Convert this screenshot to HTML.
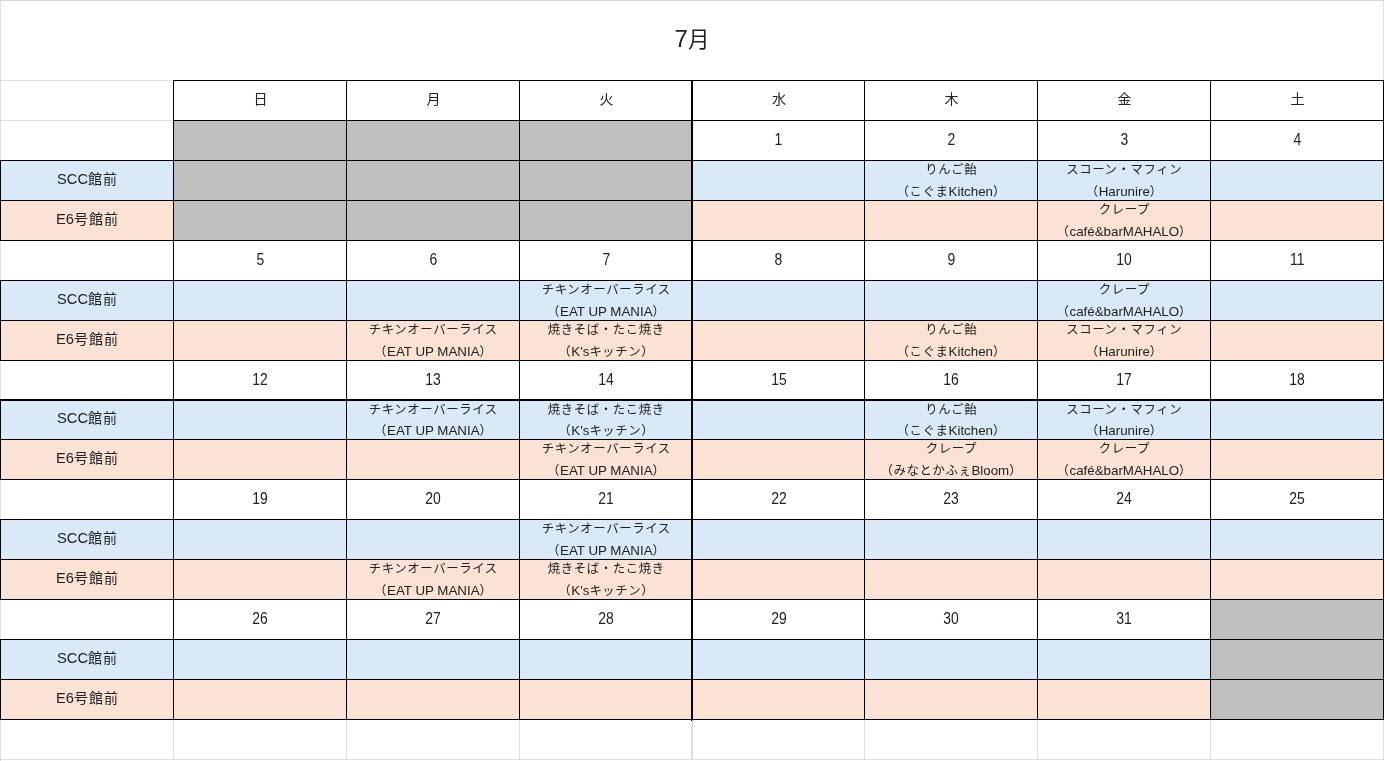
<!DOCTYPE html>
<html lang="ja">
<head>
<meta charset="utf-8">
<title>7月</title>
<style>
html,body{margin:0;padding:0;background:#fff}
body{position:relative;width:1385px;height:761px;overflow:hidden;font-family:"Liberation Sans","Noto Sans CJK JP",sans-serif;color:#222}
.c{position:absolute;box-sizing:border-box;display:flex;align-items:center;justify-content:center;text-align:center;white-space:nowrap;overflow:hidden}
.c span,.c p{position:relative;margin:0}
em{font-style:normal;letter-spacing:0}
.b{background:#dae9f8}.o{background:#fbe2d5}.g{background:#bfbfbf}
.t span{font-size:21.5px;line-height:32px;top:-1px}
.t em{font-size:24px;font-weight:400}
.t span{font-weight:400}
.n span{font-size:16px;line-height:20px;top:-0.4px;left:0px;transform:scaleX(0.87)}
.d span{font-size:14px;line-height:20px;top:-1.5px;left:0.5px}
.l span{font-size:14px;letter-spacing:1px;line-height:20px;top:-1.5px;left:0.5px}
.l em{font-size:14.67px}
.s p{position:absolute;left:0;top:0;width:100%;height:100%;font-size:12.4px;letter-spacing:0.6px}
.s span{position:absolute;left:0.3px;width:100%;height:20px;line-height:20px;top:0px}
.s span+span{top:22px}
.q span+span{top:21px}
.s em{font-size:13.33px}
.k,.y{position:absolute}
.k{background:#000}.y{background:#e0e0e0}
</style>
</head>
<body>
<div class="c t" style="left:0;top:0;width:1384px;height:81px"><span><em>7</em>月</span></div>
<div class="c d" style="left:173px;top:80px;width:174px;height:41px"><span>日</span></div>
<div class="c d" style="left:346px;top:80px;width:174px;height:41px"><span>月</span></div>
<div class="c d" style="left:519px;top:80px;width:174px;height:41px"><span>火</span></div>
<div class="c d" style="left:692px;top:80px;width:173px;height:41px"><span>水</span></div>
<div class="c d" style="left:864px;top:80px;width:174px;height:41px"><span>木</span></div>
<div class="c d" style="left:1037px;top:80px;width:174px;height:41px"><span>金</span></div>
<div class="c d" style="left:1210px;top:80px;width:174px;height:41px"><span>土</span></div>
<div class="c l b" style="left:0px;top:160px;width:174px;height:41px"><span><em>SCC</em>館前</span></div>
<div class="c l o" style="left:0px;top:200px;width:174px;height:41px"><span><em>E6</em>号館前</span></div>
<div class="c g" style="left:173px;top:120px;width:174px;height:41px"></div>
<div class="c g" style="left:173px;top:160px;width:174px;height:41px"></div>
<div class="c g" style="left:173px;top:200px;width:174px;height:41px"></div>
<div class="c g" style="left:346px;top:120px;width:174px;height:41px"></div>
<div class="c g" style="left:346px;top:160px;width:174px;height:41px"></div>
<div class="c g" style="left:346px;top:200px;width:174px;height:41px"></div>
<div class="c g" style="left:519px;top:120px;width:174px;height:41px"></div>
<div class="c g" style="left:519px;top:160px;width:174px;height:41px"></div>
<div class="c g" style="left:519px;top:200px;width:174px;height:41px"></div>
<div class="c n" style="left:692px;top:120px;width:173px;height:41px"><span>1</span></div>
<div class="c b" style="left:692px;top:160px;width:173px;height:41px"></div>
<div class="c o" style="left:692px;top:200px;width:173px;height:41px"></div>
<div class="c n" style="left:864px;top:120px;width:174px;height:41px"><span>2</span></div>
<div class="c s b" style="left:864px;top:160px;width:174px;height:41px"><p><span>りんご飴</span><span>（こぐま<em>Kitchen</em>）</span></p></div>
<div class="c o" style="left:864px;top:200px;width:174px;height:41px"></div>
<div class="c n" style="left:1037px;top:120px;width:174px;height:41px"><span>3</span></div>
<div class="c s b" style="left:1037px;top:160px;width:174px;height:41px"><p><span>スコーン・マフィン</span><span>（<em>Harunire</em>）</span></p></div>
<div class="c s o" style="left:1037px;top:200px;width:174px;height:41px"><p><span>クレープ</span><span>（<em>café&amp;barMAHALO</em>）</span></p></div>
<div class="c n" style="left:1210px;top:120px;width:174px;height:41px"><span>4</span></div>
<div class="c b" style="left:1210px;top:160px;width:174px;height:41px"></div>
<div class="c o" style="left:1210px;top:200px;width:174px;height:41px"></div>
<div class="c l b" style="left:0px;top:280px;width:174px;height:41px"><span><em>SCC</em>館前</span></div>
<div class="c l o" style="left:0px;top:320px;width:174px;height:41px"><span><em>E6</em>号館前</span></div>
<div class="c n" style="left:173px;top:240px;width:174px;height:41px"><span>5</span></div>
<div class="c b" style="left:173px;top:280px;width:174px;height:41px"></div>
<div class="c o" style="left:173px;top:320px;width:174px;height:41px"></div>
<div class="c n" style="left:346px;top:240px;width:174px;height:41px"><span>6</span></div>
<div class="c b" style="left:346px;top:280px;width:174px;height:41px"></div>
<div class="c s o" style="left:346px;top:320px;width:174px;height:41px"><p><span>チキンオーバーライス</span><span>（<em>EAT UP MANIA</em>）</span></p></div>
<div class="c n" style="left:519px;top:240px;width:174px;height:41px"><span>7</span></div>
<div class="c s b" style="left:519px;top:280px;width:174px;height:41px"><p><span>チキンオーバーライス</span><span>（<em>EAT UP MANIA</em>）</span></p></div>
<div class="c s o" style="left:519px;top:320px;width:174px;height:41px"><p><span>焼きそば・たこ焼き</span><span>（<em>K's</em>キッチン）</span></p></div>
<div class="c n" style="left:692px;top:240px;width:173px;height:41px"><span>8</span></div>
<div class="c b" style="left:692px;top:280px;width:173px;height:41px"></div>
<div class="c o" style="left:692px;top:320px;width:173px;height:41px"></div>
<div class="c n" style="left:864px;top:240px;width:174px;height:41px"><span>9</span></div>
<div class="c b" style="left:864px;top:280px;width:174px;height:41px"></div>
<div class="c s o" style="left:864px;top:320px;width:174px;height:41px"><p><span>りんご飴</span><span>（こぐま<em>Kitchen</em>）</span></p></div>
<div class="c n" style="left:1037px;top:240px;width:174px;height:41px"><span>10</span></div>
<div class="c s b" style="left:1037px;top:280px;width:174px;height:41px"><p><span>クレープ</span><span>（<em>café&amp;barMAHALO</em>）</span></p></div>
<div class="c s o" style="left:1037px;top:320px;width:174px;height:41px"><p><span>スコーン・マフィン</span><span>（<em>Harunire</em>）</span></p></div>
<div class="c n" style="left:1210px;top:240px;width:174px;height:41px"><span>11</span></div>
<div class="c b" style="left:1210px;top:280px;width:174px;height:41px"></div>
<div class="c o" style="left:1210px;top:320px;width:174px;height:41px"></div>
<div class="c l b" style="left:0px;top:400px;width:174px;height:39px"><span><em>SCC</em>館前</span></div>
<div class="c l o" style="left:0px;top:439px;width:174px;height:41px"><span><em>E6</em>号館前</span></div>
<div class="c n" style="left:173px;top:360px;width:174px;height:41px"><span>12</span></div>
<div class="c b" style="left:173px;top:400px;width:174px;height:39px"></div>
<div class="c o" style="left:173px;top:439px;width:174px;height:41px"></div>
<div class="c n" style="left:346px;top:360px;width:174px;height:41px"><span>13</span></div>
<div class="c s b q" style="left:346px;top:400px;width:174px;height:39px"><p><span>チキンオーバーライス</span><span>（<em>EAT UP MANIA</em>）</span></p></div>
<div class="c o" style="left:346px;top:439px;width:174px;height:41px"></div>
<div class="c n" style="left:519px;top:360px;width:174px;height:41px"><span>14</span></div>
<div class="c s b q" style="left:519px;top:400px;width:174px;height:39px"><p><span>焼きそば・たこ焼き</span><span>（<em>K's</em>キッチン）</span></p></div>
<div class="c s o" style="left:519px;top:439px;width:174px;height:41px"><p><span>チキンオーバーライス</span><span>（<em>EAT UP MANIA</em>）</span></p></div>
<div class="c n" style="left:692px;top:360px;width:173px;height:41px"><span>15</span></div>
<div class="c b" style="left:692px;top:400px;width:173px;height:39px"></div>
<div class="c o" style="left:692px;top:439px;width:173px;height:41px"></div>
<div class="c n" style="left:864px;top:360px;width:174px;height:41px"><span>16</span></div>
<div class="c s b q" style="left:864px;top:400px;width:174px;height:39px"><p><span>りんご飴</span><span>（こぐま<em>Kitchen</em>）</span></p></div>
<div class="c s o" style="left:864px;top:439px;width:174px;height:41px"><p><span>クレープ</span><span>（みなとかふぇ<em>Bloom</em>）</span></p></div>
<div class="c n" style="left:1037px;top:360px;width:174px;height:41px"><span>17</span></div>
<div class="c s b q" style="left:1037px;top:400px;width:174px;height:39px"><p><span>スコーン・マフィン</span><span>（<em>Harunire</em>）</span></p></div>
<div class="c s o" style="left:1037px;top:439px;width:174px;height:41px"><p><span>クレープ</span><span>（<em>café&amp;barMAHALO</em>）</span></p></div>
<div class="c n" style="left:1210px;top:360px;width:174px;height:41px"><span>18</span></div>
<div class="c b" style="left:1210px;top:400px;width:174px;height:39px"></div>
<div class="c o" style="left:1210px;top:439px;width:174px;height:41px"></div>
<div class="c l b" style="left:0px;top:519px;width:174px;height:41px"><span><em>SCC</em>館前</span></div>
<div class="c l o" style="left:0px;top:559px;width:174px;height:41px"><span><em>E6</em>号館前</span></div>
<div class="c n" style="left:173px;top:479px;width:174px;height:41px"><span>19</span></div>
<div class="c b" style="left:173px;top:519px;width:174px;height:41px"></div>
<div class="c o" style="left:173px;top:559px;width:174px;height:41px"></div>
<div class="c n" style="left:346px;top:479px;width:174px;height:41px"><span>20</span></div>
<div class="c b" style="left:346px;top:519px;width:174px;height:41px"></div>
<div class="c s o" style="left:346px;top:559px;width:174px;height:41px"><p><span>チキンオーバーライス</span><span>（<em>EAT UP MANIA</em>）</span></p></div>
<div class="c n" style="left:519px;top:479px;width:174px;height:41px"><span>21</span></div>
<div class="c s b" style="left:519px;top:519px;width:174px;height:41px"><p><span>チキンオーバーライス</span><span>（<em>EAT UP MANIA</em>）</span></p></div>
<div class="c s o" style="left:519px;top:559px;width:174px;height:41px"><p><span>焼きそば・たこ焼き</span><span>（<em>K's</em>キッチン）</span></p></div>
<div class="c n" style="left:692px;top:479px;width:173px;height:41px"><span>22</span></div>
<div class="c b" style="left:692px;top:519px;width:173px;height:41px"></div>
<div class="c o" style="left:692px;top:559px;width:173px;height:41px"></div>
<div class="c n" style="left:864px;top:479px;width:174px;height:41px"><span>23</span></div>
<div class="c b" style="left:864px;top:519px;width:174px;height:41px"></div>
<div class="c o" style="left:864px;top:559px;width:174px;height:41px"></div>
<div class="c n" style="left:1037px;top:479px;width:174px;height:41px"><span>24</span></div>
<div class="c b" style="left:1037px;top:519px;width:174px;height:41px"></div>
<div class="c o" style="left:1037px;top:559px;width:174px;height:41px"></div>
<div class="c n" style="left:1210px;top:479px;width:174px;height:41px"><span>25</span></div>
<div class="c b" style="left:1210px;top:519px;width:174px;height:41px"></div>
<div class="c o" style="left:1210px;top:559px;width:174px;height:41px"></div>
<div class="c l b" style="left:0px;top:639px;width:174px;height:41px"><span><em>SCC</em>館前</span></div>
<div class="c l o" style="left:0px;top:679px;width:174px;height:41px"><span><em>E6</em>号館前</span></div>
<div class="c n" style="left:173px;top:599px;width:174px;height:41px"><span>26</span></div>
<div class="c b" style="left:173px;top:639px;width:174px;height:41px"></div>
<div class="c o" style="left:173px;top:679px;width:174px;height:41px"></div>
<div class="c n" style="left:346px;top:599px;width:174px;height:41px"><span>27</span></div>
<div class="c b" style="left:346px;top:639px;width:174px;height:41px"></div>
<div class="c o" style="left:346px;top:679px;width:174px;height:41px"></div>
<div class="c n" style="left:519px;top:599px;width:174px;height:41px"><span>28</span></div>
<div class="c b" style="left:519px;top:639px;width:174px;height:41px"></div>
<div class="c o" style="left:519px;top:679px;width:174px;height:41px"></div>
<div class="c n" style="left:692px;top:599px;width:173px;height:41px"><span>29</span></div>
<div class="c b" style="left:692px;top:639px;width:173px;height:41px"></div>
<div class="c o" style="left:692px;top:679px;width:173px;height:41px"></div>
<div class="c n" style="left:864px;top:599px;width:174px;height:41px"><span>30</span></div>
<div class="c b" style="left:864px;top:639px;width:174px;height:41px"></div>
<div class="c o" style="left:864px;top:679px;width:174px;height:41px"></div>
<div class="c n" style="left:1037px;top:599px;width:174px;height:41px"><span>31</span></div>
<div class="c b" style="left:1037px;top:639px;width:174px;height:41px"></div>
<div class="c o" style="left:1037px;top:679px;width:174px;height:41px"></div>
<div class="c g" style="left:1210px;top:599px;width:174px;height:41px"></div>
<div class="c g" style="left:1210px;top:639px;width:174px;height:41px"></div>
<div class="c g" style="left:1210px;top:679px;width:174px;height:41px"></div>
<div class="y" style="left:0;top:0;width:1384px;height:1px;background:#d9d9d9"></div>
<div class="y" style="left:0px;top:0px;width:1px;height:761px"></div>
<div class="y" style="left:1383px;top:0px;width:1px;height:81px"></div>
<div class="y" style="left:0px;top:80px;width:174px;height:1px"></div>
<div class="y" style="left:0px;top:120px;width:174px;height:1px"></div>
<div class="y" style="left:0px;top:759px;width:1384px;height:1px"></div>
<div class="y" style="left:173px;top:720px;width:1px;height:40px"></div>
<div class="y" style="left:346px;top:720px;width:1px;height:40px"></div>
<div class="y" style="left:519px;top:720px;width:1px;height:40px"></div>
<div class="y" style="left:691px;top:720px;width:2px;height:40px"></div>
<div class="y" style="left:864px;top:720px;width:1px;height:40px"></div>
<div class="y" style="left:1037px;top:720px;width:1px;height:40px"></div>
<div class="y" style="left:1210px;top:720px;width:1px;height:40px"></div>
<div class="y" style="left:1383px;top:720px;width:1px;height:40px"></div>
<div class="k" style="left:173px;top:80px;width:1211px;height:1px"></div>
<div class="k" style="left:173px;top:120px;width:1211px;height:1px"></div>
<div class="k" style="left:0px;top:160px;width:1384px;height:1px"></div>
<div class="k" style="left:0px;top:200px;width:1384px;height:1px"></div>
<div class="k" style="left:0px;top:240px;width:1384px;height:1px"></div>
<div class="k" style="left:0px;top:280px;width:1384px;height:1px"></div>
<div class="k" style="left:0px;top:320px;width:1384px;height:1px"></div>
<div class="k" style="left:0px;top:360px;width:1384px;height:1px"></div>
<div class="k" style="left:0px;top:439px;width:1384px;height:1px"></div>
<div class="k" style="left:0px;top:479px;width:1384px;height:1px"></div>
<div class="k" style="left:0px;top:519px;width:1384px;height:1px"></div>
<div class="k" style="left:0px;top:559px;width:1384px;height:1px"></div>
<div class="k" style="left:0px;top:599px;width:1384px;height:1px"></div>
<div class="k" style="left:0px;top:639px;width:1384px;height:1px"></div>
<div class="k" style="left:0px;top:679px;width:1384px;height:1px"></div>
<div class="k" style="left:0px;top:719px;width:1384px;height:1px"></div>
<div class="k" style="left:0px;top:399px;width:1384px;height:2px"></div>
<div class="k" style="left:173px;top:80px;width:1px;height:640px"></div>
<div class="k" style="left:346px;top:80px;width:1px;height:640px"></div>
<div class="k" style="left:519px;top:80px;width:1px;height:640px"></div>
<div class="k" style="left:691px;top:80px;width:2px;height:640px"></div>
<div class="k" style="left:691px;top:720px;width:1px;height:1px"></div>
<div class="k" style="left:864px;top:80px;width:1px;height:640px"></div>
<div class="k" style="left:1037px;top:80px;width:1px;height:640px"></div>
<div class="k" style="left:1210px;top:80px;width:1px;height:640px"></div>
<div class="k" style="left:1383px;top:80px;width:1px;height:640px"></div>
<div class="k" style="left:0px;top:160px;width:1px;height:81px"></div>
<div class="k" style="left:0px;top:280px;width:1px;height:81px"></div>
<div class="k" style="left:0px;top:400px;width:1px;height:80px"></div>
<div class="k" style="left:0px;top:519px;width:1px;height:81px"></div>
<div class="k" style="left:0px;top:639px;width:1px;height:81px"></div>
</body>
</html>
